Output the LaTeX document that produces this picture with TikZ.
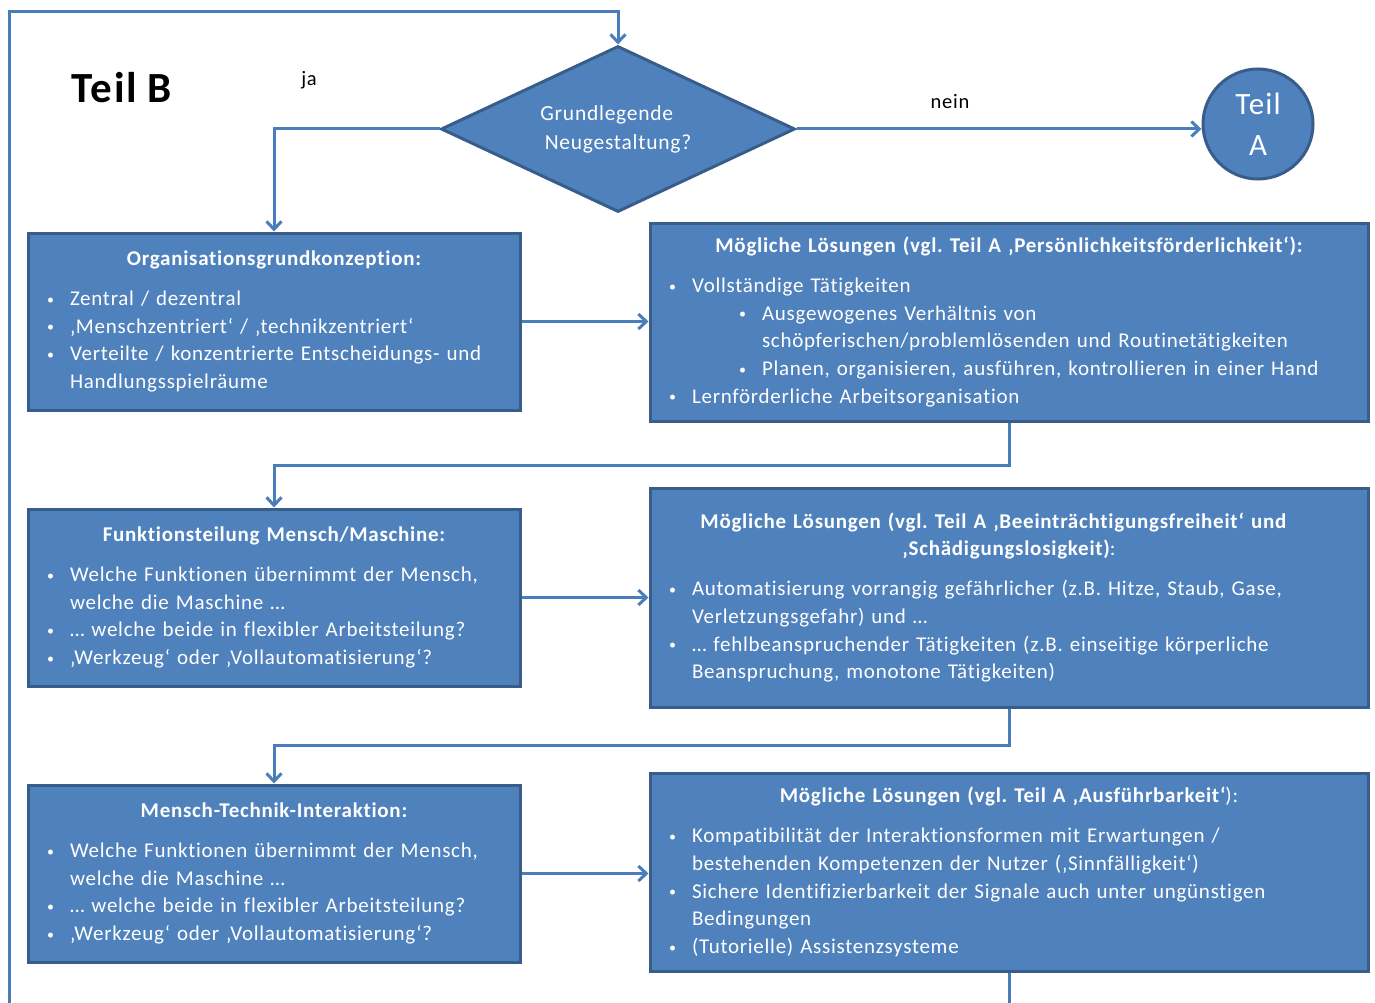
\documentclass[tikz,border=0pt]{standalone}
\usepackage{fontspec}
\setmainfont{Carlito}[LetterSpace=3.5, Ligatures={NoCommon,NoContextual,NoRare}]
\usetikzlibrary{shapes.geometric,arrows.meta}
\definecolor{boxfill}{HTML}{4F81BD}
\definecolor{boxline}{HTML}{385D8A}
\definecolor{conncol}{HTML}{4A7EBB}
\setlength\parindent{0pt}
\frenchspacing
\newcommand\bdot{\raisebox{1.5pt}{\fontsize{14}{14}\selectfont•}}
\newcommand\ttl[1]{{\centering\bfseries #1\par}\vspace{12.3pt}}
\newcommand\bul[1]{\par\hangindent=23pt\hangafter=1\noindent\makebox[23pt][l]{\bdot}#1\par}
\newcommand\sbul[1]{\par\hangindent=93pt\hangafter=1\noindent\hspace*{70pt}\makebox[23pt][l]{\bdot}#1\par}
\tikzset{
  x=1pt, y=1pt,
  box/.style={draw=boxline, fill=boxfill, line width=3pt, text=white, align=left,
    inner xsep=19pt, inner ysep=0pt, font=\fontsize{21}{27.7}\selectfont},
  conn/.style={draw=conncol, line width=3pt, -{Straight Barb[length=8pt,width=15pt]}},
  lbl/.style={font=\fontsize{20.5}{24}\selectfont, text=black, inner sep=0pt}
}
\begin{document}
\begin{tikzpicture}
\useasboundingbox (0,0) rectangle (1375,-1003);
% decision
\node[diamond, draw=boxline, fill=boxfill, line width=3pt, minimum width=354pt, minimum height=166pt,
  aspect=2.13, inner sep=0pt, text=white, font=\fontsize{21.5}{29}\selectfont]
  (dia) at (618,-129) {\raisebox{-3pt}{\parbox{200pt}{\centering Grundlegende\newline Neugestaltung?}}};
\node[circle, draw=boxline, fill=boxfill, line width=3pt, minimum size=110pt, inner sep=0pt,
  text=white, align=center, font=\fontsize{31}{41}\selectfont] (teilA) at (1258,-124) {Teil\\A};
\node[font=\fontsize{43}{50}\selectfont\bfseries, inner sep=0pt] (teilB) at (122,-88) {Teil B};
\node[lbl] (ja) at (309,-80) {ja};
\node[lbl] (nein) at (950,-102) {nein};

% boxes
\node[box, text width=454pt, minimum height=177pt] (b1) at (274,-321.5) {%
\ttl{Organisationsgrundkonzeption:}%
\bul{Zentral / dezentral}%
\bul{‚Menschzentriert‘ / ‚technikzentriert‘}%
\bul{Verteilte / konzentrierte Entscheidungs- und\newline Handlungsspielräume}};

\node[box, text width=680pt, minimum height=198pt] (b2) at (1009,-322) {%
\ttl{Mögliche Lösungen (vgl. Teil A ‚Persönlichkeitsförderlichkeit‘):}%
\bul{Vollständige Tätigkeiten}%
\sbul{Ausgewogenes Verhältnis von\newline schöpferischen/problemlösenden und Routinetätigkeiten}%
\sbul{Planen, organisieren, ausführen, kontrollieren in einer Hand}%
\bul{Lernförderliche Arbeitsorganisation}};

\node[box, text width=454pt, minimum height=177pt] (b3) at (274,-597.5) {%
\ttl{Funktionsteilung Mensch/Maschine:}%
\bul{Welche Funktionen übernimmt der Mensch,\newline welche die Maschine …}%
\bul{… welche beide in flexibler Arbeitsteilung?}%
\bul{‚Werkzeug‘ oder ‚Vollautomatisierung‘?}};

\node[box, text width=680pt, minimum height=219pt] (b4) at (1009,-597.5) {%
{\centering\bfseries Mögliche Lösungen (vgl. Teil A ‚Beeinträchtigungsfreiheit‘ und\newline ‚Schädigungslosigkeit)\mdseries:\par}\vspace{12.3pt}%
\bul{Automatisierung vorrangig gefährlicher (z.B. Hitze, Staub, Gase,\newline Verletzungsgefahr) und …}%
\bul{… fehlbeanspruchender Tätigkeiten (z.B. einseitige körperliche\newline Beanspruchung, monotone Tätigkeiten)}};

\node[box, text width=454pt, minimum height=177pt] (b5) at (274,-873.5) {%
\ttl{Mensch-Technik-Interaktion:}%
\bul{Welche Funktionen übernimmt der Mensch,\newline welche die Maschine …}%
\bul{… welche beide in flexibler Arbeitsteilung?}%
\bul{‚Werkzeug‘ oder ‚Vollautomatisierung‘?}};

\node[box, text width=680pt, minimum height=198pt] (b6) at (1009,-872) {%
{\centering\bfseries Mögliche Lösungen (vgl. Teil A ‚Ausführbarkeit‘\mdseries):\par}\vspace{12.3pt}%
\bul{Kompatibilität der Interaktionsformen mit Erwartungen /\newline bestehenden Kompetenzen der Nutzer (‚Sinnfälligkeit‘)}%
\bul{Sichere Identifizierbarkeit der Signale auch unter ungünstigen\newline Bedingungen}%
\bul{(Tutorielle) Assistenzsysteme}};

% connectors
\draw[conn] (dia.west) -| (b1.north);
\draw[conn] (dia.east) -- (teilA.west |- dia.east);
\draw[conn] (b1.east) -- (b1.east -| b2.west);
\draw[conn] (b2.south) -- (1009,-465) -| (b3.north);
\draw[conn] (b3.east) -- (b3.east -| b4.west);
\draw[conn] (b4.south) -- (1009,-745) -| (b5.north);
\draw[conn] (b5.east) -- (b5.east -| b6.west);
\draw[conn] (b6.south) -- (1009,-1020) -| (9,-12) -| (dia.north);
\end{tikzpicture}
\end{document}
